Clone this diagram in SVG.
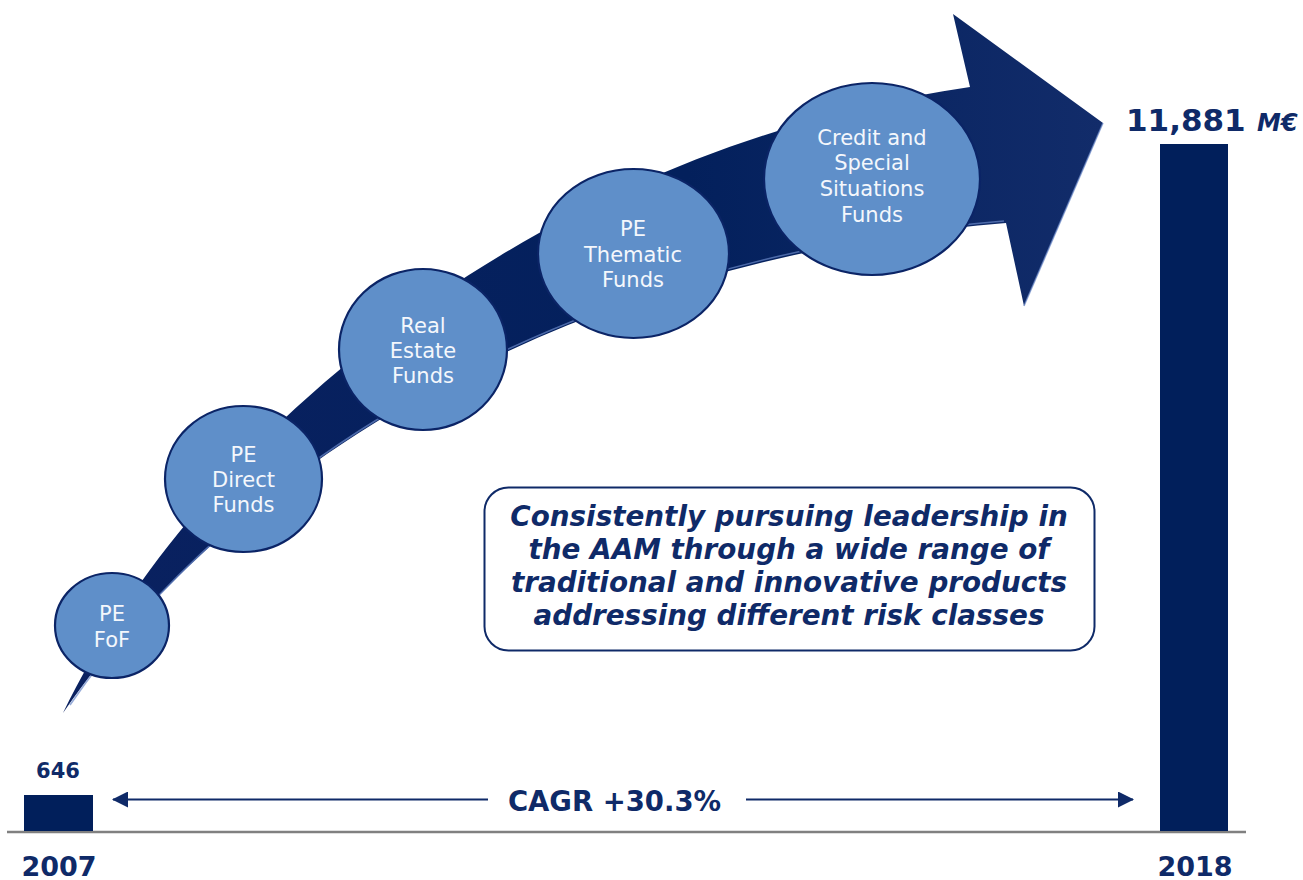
<svg xmlns="http://www.w3.org/2000/svg" width="1303" height="880" viewBox="0 0 1303 880">
  <style>
    .node ellipse { fill: #5F8FC9; stroke: #0B2466; stroke-width: 2.2; }
    .node text { fill: #F4F7FC; font-family: "DejaVu Sans", Verdana, sans-serif; font-size: 21px; text-anchor: middle; }
    .bold { fill: #0F2A68; font-family: "DejaVu Sans", Verdana, sans-serif; font-weight: bold; }
    .bar { fill: #011F5B; }
    .msg { fill: #0F2A68; font-family: "DejaVu Sans", Verdana, sans-serif; font-weight: bold; font-style: italic; font-size: 27.8px; text-anchor: middle; }
    .cagr { stroke: #0F2A68; stroke-width: 2; fill: none; }
  </style>
  <defs>
    <linearGradient id="arrowGrad" x1="0" y1="0" x2="1" y2="0">
      <stop offset="0" stop-color="#0A2160"/>
      <stop offset="0.6" stop-color="#03205C"/>
      <stop offset="1" stop-color="#122C6A"/>
    </linearGradient>
    <marker id="ah" viewBox="0 0 16 16" refX="15" refY="8" markerWidth="16" markerHeight="16" markerUnits="userSpaceOnUse" orient="auto-start-reverse">
      <path d="M0,0 L16,8 L0,16 Z" fill="#0F2A68"/>
    </marker>
  </defs>

  <!-- baseline axis -->
  <line x1="7" y1="832" x2="1246" y2="832" stroke="#808080" stroke-width="2.5"/>

  <!-- growth arrow -->
  <g id="growth-arrow">
    <path d="M63,713 C200,430 540,150 970,87 L953,14 L1103,123 L1024,306 L1006,223 C560,260 230,470 63,713 Z" fill="url(#arrowGrad)"/>
    <path d="M70,705 C232,468 560,258 1004,221" fill="none" stroke="#6A88C8" stroke-width="1.6" opacity="0.7"/>
    <line x1="1103" y1="123" x2="1024" y2="306" stroke="#6A88C8" stroke-width="1.5" opacity="0.7"/>
  </g>

  <!-- nodes -->
  <g id="node-pe-fof" class="node">
    <ellipse cx="112" cy="625.5" rx="57" ry="52.5"/>
    <text x="112" y="621">PE</text>
    <text x="112" y="647">FoF</text>
  </g>
  <g id="node-pe-direct" class="node">
    <ellipse cx="243.5" cy="479" rx="78.5" ry="73"/>
    <text x="243.5" y="462">PE</text>
    <text x="243.5" y="487">Direct</text>
    <text x="243.5" y="512">Funds</text>
  </g>
  <g id="node-real-estate" class="node">
    <ellipse cx="423" cy="349.5" rx="84" ry="80.5"/>
    <text x="423" y="333">Real</text>
    <text x="423" y="358">Estate</text>
    <text x="423" y="383">Funds</text>
  </g>
  <g id="node-pe-thematic" class="node">
    <ellipse cx="633.5" cy="253.5" rx="95.5" ry="84.5"/>
    <text x="633" y="236">PE</text>
    <text x="633" y="262">Thematic</text>
    <text x="633" y="287">Funds</text>
  </g>
  <g id="node-credit" class="node">
    <ellipse cx="872" cy="179" rx="108" ry="96"/>
    <text x="872" y="145">Credit and</text>
    <text x="872" y="170">Special</text>
    <text x="872" y="196">Situations</text>
    <text x="872" y="222">Funds</text>
  </g>

  <!-- message box -->
  <g id="message-box">
    <rect x="484.5" y="487.5" width="610" height="163" rx="24" ry="24" fill="#FFFFFF" stroke="#0F2A68" stroke-width="2"/>
    <text class="msg" x="789" y="526">Consistently pursuing leadership in</text>
    <text class="msg" x="789" y="559">the AAM through a wide range of</text>
    <text class="msg" x="789" y="592">traditional and innovative products</text>
    <text class="msg" x="789" y="625">addressing different risk classes</text>
  </g>

  <!-- bars -->
  <g id="bar-2007">
    <rect class="bar" x="24" y="795" width="69" height="36"/>
    <text class="bold" x="58" y="778" font-size="21" text-anchor="middle">646</text>
    <text class="bold" x="59" y="876" font-size="27" text-anchor="middle">2007</text>
  </g>
  <g id="bar-2018">
    <rect class="bar" x="1160" y="144" width="68" height="687"/>
    <text class="bold" x="1126" y="131" font-size="31">11,881</text>
    <text class="bold" x="1257" y="131" font-size="24" font-style="italic">M€</text>
    <text class="bold" x="1195" y="876" font-size="27" text-anchor="middle">2018</text>
  </g>

  <!-- CAGR connectors -->
  <g id="connectors">
    <line class="cagr" x1="488" y1="799.5" x2="113" y2="799.5" marker-end="url(#ah)"/>
    <line class="cagr" x1="746" y1="799.5" x2="1133" y2="799.5" marker-end="url(#ah)"/>
  </g>
  <text class="bold" x="614.5" y="811" font-size="27.5" text-anchor="middle">CAGR +30.3%</text>
</svg>
